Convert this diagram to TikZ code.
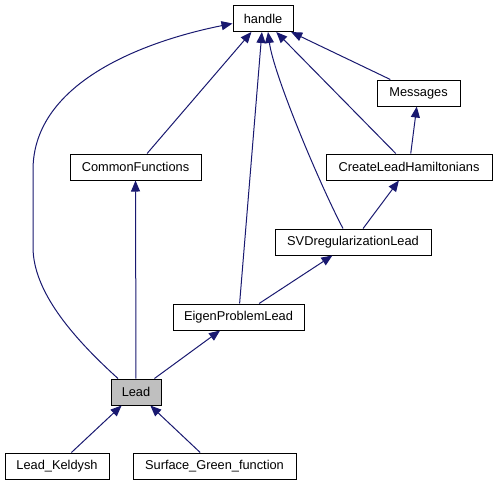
\documentclass[tikz,border=0pt]{standalone}
\usepackage{fontspec}
\setmainfont{Liberation Sans}
\usetikzlibrary{arrows.meta,calc}
\definecolor{edgeblue}{RGB}{25,25,112}
\definecolor{leadgray}{RGB}{191,191,191}
\begin{document}
\begin{tikzpicture}[x=1pt,y=-1pt,
  box/.style={draw=black, line width=1pt, fill=white, inner sep=0pt,
    minimum height=26pt, font=\fontsize{12.8}{15}\selectfont},
  edge/.style={draw=edgeblue, line width=1pt,
    -{Triangle[length=11pt,width=9pt,fill=edgeblue]}}]
\useasboundingbox (0,0) rectangle (497,485);
\node[box, minimum width=60pt]  (handle)   at (263,18.5) {handle};
\node[box, minimum width=83pt]  (messages) at (418.5,93) {Messages};
\node[box, minimum width=166pt] (create)   at (409,167) {CreateLeadHamiltonians};
\node[box, minimum width=156pt] (svd)      at (353,242) {SVDregularizationLead};
\node[box, minimum width=131pt] (common)   at (135.5,167) {CommonFunctions};
\node[box, minimum width=131pt] (eigen)    at (238.5,317) {EigenProblemLead};
\node[box, minimum width=50pt, fill=leadgray] (lead) at (136,392) {Lead};
\node[box, minimum width=104pt] (keldysh)  at (57,466) {Lead\_Keldysh};
\node[box, minimum width=163pt] (surface)  at (214.5,466) {Surface\_Green\_function};

\draw[edge] (common) -- (handle);
\draw[edge] (eigen) -- (handle);
\draw[edge] ($(svd.north)+(-10,0)$) .. controls (320,185) and (273.7,75) .. ($(handle.south)+(5,0)$);
\draw[edge] (create) -- (handle);
\draw[edge] (messages) -- (handle);
\draw[edge] (create) -- (messages);
\draw[edge] (svd) -- (create);
\draw[edge] (eigen) -- (svd);
\draw[edge] (lead) -- (eigen);
\draw[edge] (lead) -- (common);
\draw[edge] (keldysh) -- (lead);
\draw[edge] (surface) -- (lead);
\draw[edge] ($(lead.north)+(-18,0)$) .. controls (70,335) and (33,290) .. (33,247)
  -- (33,170) .. controls (33,80) and (150,40) .. ($(handle.west)+(0,5)$);
\end{tikzpicture}
\end{document}
